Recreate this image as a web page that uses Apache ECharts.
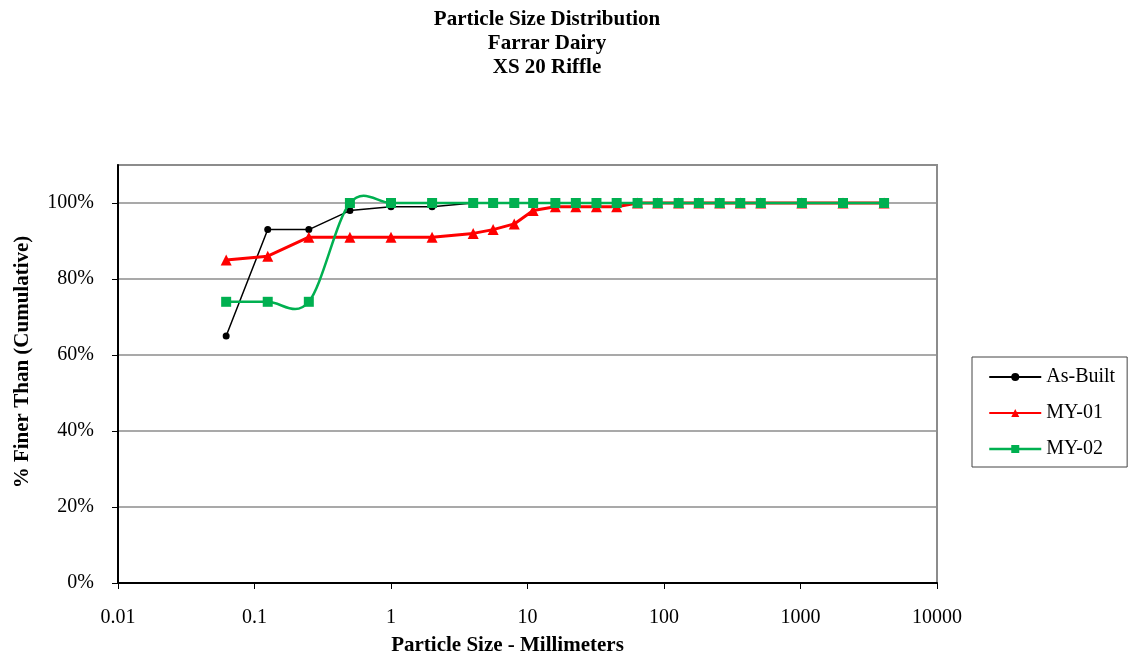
<!DOCTYPE html>
<html>
<head>
<meta charset="utf-8">
<title>Particle Size Distribution</title>
<script src="https://cdn.jsdelivr.net/npm/echarts@6/dist/echarts.min.js"></script>
<style>
  html, body { margin: 0; padding: 0; background: #fff; }
  #chart { width: 1130px; height: 659px; }
</style>
</head>
<body>
<div id="chart"></div>
<script>
// Sieve sizes (mm)
const sizes = [0.062, 0.125, 0.25, 0.5, 1, 2, 4, 5.6, 8, 11, 16, 22.6, 32, 45, 64, 90, 128, 180, 256, 362, 512, 1024, 2048, 4096];

// Cumulative percent finer for each survey
const asBuilt = [65, 93, 93, 98, 99, 99, 100, 100, 100, 100, 100, 100, 100, 100, 100, 100, 100, 100, 100, 100, 100, 100, 100, 100];
const my01    = [85, 86, 91, 91, 91, 91, 92, 93, 94.5, 98, 99, 99, 99, 99, 100, 100, 100, 100, 100, 100, 100, 100, 100, 100];
const my02    = [74, 74, 74, 100, 100, 100, 100, 100, 100, 100, 100, 100, 100, 100, 100, 100, 100, 100, 100, 100, 100, 100, 100, 100];

const xTickLabels = ['0.01', '0.1', '1', '10', '100', '1000', '10000'];
const yTickValues = [0, 20, 40, 60, 80, 100];

const titleLines = ['Particle Size Distribution', 'Farrar Dairy', 'XS 20 Riffle'];

const serif = '"Liberation Serif", "DejaVu Serif", serif';
const GREEN = '#00b050';
const RED = '#ff0000';

function pairs(ys) {
  return sizes.map((x, i) => [x, ys[i]]);
}

// Smoothed segment between point i and i+1 (cardinal spline, tension 1/6 in pixel space)
function smoothSegment(params, api) {
  const n = params.dataInsideLength;
  const i = params.dataIndexInside;
  if (i >= n - 1) return null;
  const pt = k => api.coord([api.value(0, k), api.value(1, k)]);
  const p0 = pt(Math.max(i - 1, 0));
  const p1 = pt(i);
  const p2 = pt(i + 1);
  const p3 = pt(Math.min(i + 2, n - 1));
  return {
    type: 'bezierCurve',
    shape: {
      x1: p1[0], y1: p1[1],
      x2: p2[0], y2: p2[1],
      cpx1: p1[0] + (p2[0] - p0[0]) / 6,
      cpy1: p1[1] + (p2[1] - p0[1]) / 6,
      cpx2: p2[0] - (p3[0] - p1[0]) / 6,
      cpy2: p2[1] - (p3[1] - p1[1]) / 6
    },
    style: { stroke: GREEN, lineWidth: 2.5, fill: null }
  };
}

const chart = echarts.init(document.getElementById('chart'), null, { renderer: 'canvas' });

chart.setOption({
  animation: false,
  backgroundColor: '#ffffff',
  textStyle: { fontFamily: serif },
  graphic: [{
    type: 'text',
    x: 547,
    y: 8,
    style: {
      text: titleLines.join('\n'),
      font: 'bold 21px ' + serif,
      lineHeight: 24,
      fill: '#000',
      textAlign: 'center',
      textVerticalAlign: 'top'
    }
  }],
  grid: {
    left: 118, top: 165, right: 193, bottom: 76,
    show: true,
    borderColor: '#8c8c8c',
    borderWidth: 2,
    containLabel: false,
    outerBoundsMode: 'none'
  },
  legend: {
    orient: 'vertical',
    left: 972,
    top: 357,
    padding: [10, 12, 8, 16],
    itemGap: 16,
    itemWidth: 52,
    itemHeight: 10,
    borderColor: '#444',
    borderWidth: 1,
    borderRadius: 0,
    textStyle: { fontFamily: serif, fontSize: 20, color: '#000' },
    data: [
      { name: 'As-Built' },
      { name: 'MY-01' },
      { name: 'MY-02', lineStyle: { color: GREEN, width: 2.5, opacity: 1 } }
    ]
  },
  xAxis: {
    type: 'log',
    logBase: 10,
    min: 0.01,
    max: 10000,
    name: 'Particle Size - Millimeters',
    nameLocation: 'middle',
    nameGap: 52,
    nameTextStyle: { fontFamily: serif, fontSize: 21, fontWeight: 'bold', color: '#000', padding: [0, 40, 0, 0] },
    axisLine: { show: true, onZero: false, lineStyle: { color: '#000', width: 2 } },
    axisTick: { show: true, inside: false, length: 6, lineStyle: { color: '#000', width: 1 } },
    minorTick: { show: false },
    splitLine: { show: false },
    axisLabel: {
      margin: 25,
      fontFamily: serif,
      fontSize: 20,
      color: '#000',
      formatter: function (v) {
        const i = Math.round(Math.log10(v)) + 2;
        return xTickLabels[i] !== undefined ? xTickLabels[i] : '';
      }
    }
  },
  yAxis: {
    type: 'value',
    min: 0,
    max: 110,
    interval: 20,
    name: '% Finer Than (Cumulative)',
    nameLocation: 'middle',
    nameGap: 85,
    nameRotate: 90,
    nameTextStyle: { fontFamily: serif, fontSize: 21, fontWeight: 'bold', color: '#000', padding: [0, 0, 0, 24] },
    axisLine: { show: true, lineStyle: { color: '#000', width: 2 } },
    axisTick: { show: true, inside: false, length: 6, customValues: yTickValues, lineStyle: { color: '#000', width: 1 } },
    splitLine: { show: true, lineStyle: { color: '#8c8c8c', width: 1.5 } },
    axisLabel: {
      margin: 24,
      fontFamily: serif,
      fontSize: 20,
      color: '#000',
      formatter: function (v) { return v > 100 ? '' : v + '%'; }
    }
  },
  series: [
    {
      name: 'As-Built',
      type: 'line',
      data: pairs(asBuilt),
      symbol: 'circle',
      symbolSize: 7,
      lineStyle: { color: '#000', width: 1.5 },
      itemStyle: { color: '#000' },
      z: 2
    },
    {
      name: 'MY-01',
      type: 'line',
      data: pairs(my01),
      symbol: 'triangle',
      symbolSize: 11,
      lineStyle: { color: RED, width: 3 },
      itemStyle: { color: RED },
      z: 3
    },
    {
      name: 'MY-02 curve',
      type: 'custom',
      data: pairs(my02),
      encode: { x: 0, y: 1 },
      renderItem: smoothSegment,
      silent: true,
      z: 4
    },
    {
      name: 'MY-02',
      type: 'line',
      data: pairs(my02),
      symbol: 'rect',
      symbolSize: 10,
      lineStyle: { color: GREEN, width: 0, opacity: 0 },
      itemStyle: { color: GREEN },
      z: 5
    }
  ]
});
</script>
</body>
</html>
